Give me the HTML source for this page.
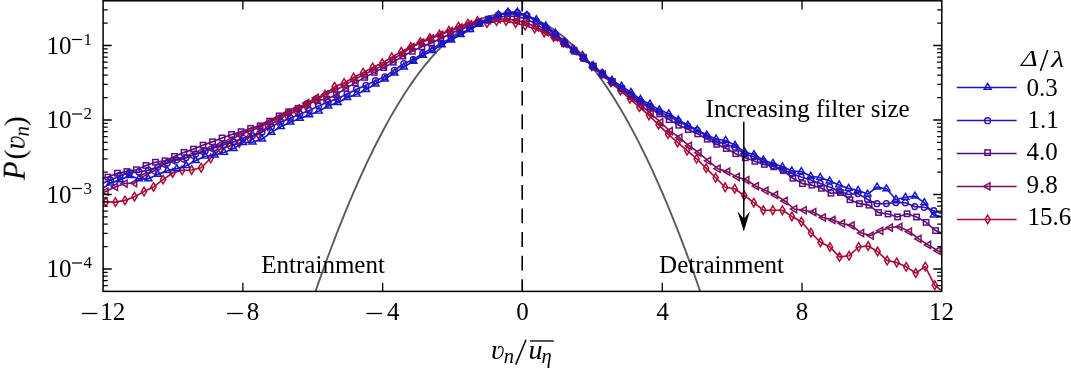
<!DOCTYPE html>
<html><head><meta charset="utf-8"><style>
html,body{margin:0;padding:0;background:#fff;width:1071px;height:372px;overflow:hidden}
svg{display:block}
text{font-family:"Liberation Serif",serif;fill:#000}
</style></head><body>
<svg width="1071" height="372" viewBox="0 0 1071 372">
<rect width="1071" height="372" fill="#fff"/>
<defs><clipPath id="ax"><rect x="103.1" y="0.8" width="838.6999999999999" height="290.59999999999997"/></clipPath></defs>
<g clip-path="url(#ax)">
<path d="M300.00,337.97 L301.40,333.60 L302.81,329.26 L304.21,324.96 L305.62,320.68 L307.02,316.43 L308.43,312.21 L309.83,308.02 L311.24,303.86 L312.64,299.72 L314.05,295.62 L315.45,291.55 L316.86,287.51 L318.26,283.50 L319.67,279.51 L321.07,275.56 L322.47,271.64 L323.88,267.74 L325.28,263.88 L326.69,260.04 L328.09,256.24 L329.50,252.46 L330.90,248.71 L332.31,245.00 L333.71,241.31 L335.12,237.65 L336.52,234.03 L337.93,230.43 L339.33,226.86 L340.74,223.32 L342.14,219.81 L343.55,216.33 L344.95,212.88 L346.35,209.46 L347.76,206.07 L349.16,202.71 L350.57,199.38 L351.97,196.08 L353.38,192.81 L354.78,189.56 L356.19,186.35 L357.59,183.17 L359.00,180.01 L360.40,176.89 L361.81,173.79 L363.21,170.73 L364.62,167.69 L366.02,164.69 L367.42,161.71 L368.83,158.77 L370.23,155.85 L371.64,152.96 L373.04,150.11 L374.45,147.28 L375.85,144.48 L377.26,141.71 L378.66,138.97 L380.07,136.26 L381.47,133.58 L382.88,130.93 L384.28,128.31 L385.69,125.72 L387.09,123.16 L388.49,120.63 L389.90,118.13 L391.30,115.65 L392.71,113.21 L394.11,110.80 L395.52,108.41 L396.92,106.06 L398.33,103.74 L399.73,101.44 L401.14,99.18 L402.54,96.94 L403.95,94.73 L405.35,92.56 L406.76,90.41 L408.16,88.29 L409.57,86.21 L410.97,84.15 L412.37,82.12 L413.78,80.12 L415.18,78.15 L416.59,76.21 L417.99,74.31 L419.40,72.43 L420.80,70.57 L422.21,68.75 L423.61,66.96 L425.02,65.20 L426.42,63.47 L427.83,61.77 L429.23,60.09 L430.64,58.45 L432.04,56.84 L433.44,55.25 L434.85,53.70 L436.25,52.18 L437.66,50.68 L439.06,49.22 L440.47,47.78 L441.87,46.37 L443.28,45.00 L444.68,43.65 L446.09,42.33 L447.49,41.05 L448.90,39.79 L450.30,38.56 L451.71,37.36 L453.11,36.19 L454.52,35.05 L455.92,33.94 L457.32,32.86 L458.73,31.81 L460.13,30.79 L461.54,29.80 L462.94,28.84 L464.35,27.90 L465.75,27.00 L467.16,26.13 L468.56,25.29 L469.97,24.47 L471.37,23.69 L472.78,22.93 L474.18,22.21 L475.59,21.51 L476.99,20.85 L478.39,20.21 L479.80,19.61 L481.20,19.03 L482.61,18.48 L484.01,17.96 L485.42,17.48 L486.82,17.02 L488.23,16.59 L489.63,16.19 L491.04,15.82 L492.44,15.48 L493.85,15.17 L495.25,14.89 L496.66,14.64 L498.06,14.42 L499.46,14.23 L500.87,14.07 L502.27,13.93 L503.68,13.83 L505.08,13.76 L506.49,13.71 L507.89,13.70 L509.30,13.72 L510.70,13.76 L512.11,13.84 L513.51,13.94 L514.92,14.07 L516.32,14.24 L517.73,14.43 L519.13,14.66 L520.54,14.91 L521.94,15.19 L523.34,15.50 L524.75,15.84 L526.15,16.21 L527.56,16.62 L528.96,17.05 L530.37,17.51 L531.77,18.00 L533.18,18.51 L534.58,19.06 L535.99,19.64 L537.39,20.25 L538.80,20.89 L540.20,21.56 L541.61,22.25 L543.01,22.98 L544.41,23.74 L545.82,24.52 L547.22,25.34 L548.63,26.18 L550.03,27.06 L551.44,27.96 L552.84,28.89 L554.25,29.86 L555.65,30.85 L557.06,31.87 L558.46,32.93 L559.87,34.01 L561.27,35.12 L562.68,36.26 L564.08,37.43 L565.48,38.63 L566.89,39.86 L568.29,41.12 L569.70,42.41 L571.10,43.73 L572.51,45.08 L573.91,46.46 L575.32,47.87 L576.72,49.30 L578.13,50.77 L579.53,52.27 L580.94,53.79 L582.34,55.35 L583.75,56.94 L585.15,58.55 L586.56,60.20 L587.96,61.87 L589.36,63.57 L590.77,65.31 L592.17,67.07 L593.58,68.86 L594.98,70.69 L596.39,72.54 L597.79,74.42 L599.20,76.33 L600.60,78.27 L602.01,80.24 L603.41,82.24 L604.82,84.27 L606.22,86.33 L607.63,88.42 L609.03,90.54 L610.43,92.69 L611.84,94.87 L613.24,97.08 L614.65,99.31 L616.05,101.58 L617.46,103.88 L618.86,106.20 L620.27,108.56 L621.67,110.94 L623.08,113.36 L624.48,115.80 L625.89,118.28 L627.29,120.78 L628.70,123.32 L630.10,125.88 L631.51,128.47 L632.91,131.09 L634.31,133.75 L635.72,136.43 L637.12,139.14 L638.53,141.88 L639.93,144.65 L641.34,147.45 L642.74,150.28 L644.15,153.14 L645.55,156.03 L646.96,158.95 L648.36,161.89 L649.77,164.87 L651.17,167.88 L652.58,170.92 L653.98,173.98 L655.38,177.08 L656.79,180.20 L658.19,183.36 L659.60,186.55 L661.00,189.76 L662.41,193.00 L663.81,196.28 L665.22,199.58 L666.62,202.92 L668.03,206.28 L669.43,209.67 L670.84,213.09 L672.24,216.54 L673.65,220.03 L675.05,223.54 L676.45,227.08 L677.86,230.65 L679.26,234.25 L680.67,237.88 L682.07,241.54 L683.48,245.22 L684.88,248.94 L686.29,252.69 L687.69,256.47 L689.10,260.28 L690.50,264.11 L691.91,267.98 L693.31,271.87 L694.72,275.80 L696.12,279.76 L697.53,283.74 L698.93,287.76 L700.33,291.80 L701.74,295.87 L703.14,299.98 L704.55,304.11 L705.95,308.27 L707.36,312.46 L708.76,316.69 L710.17,320.94 L711.57,325.22 L712.98,329.53 L714.38,333.87 L715.79,338.24 L717.19,342.64 L718.60,347.07 L720.00,351.53" fill="none" stroke="#5a5a5a" stroke-width="1.9"/>
<line x1="522.2" y1="0.8" x2="522.2" y2="291.4" stroke="#000" stroke-width="1.6" stroke-dasharray="14.8 8.75" stroke-dashoffset="4.20"/>
<path d="M101.10,179.00 L107.90,177.10 L117.41,173.18 L126.93,171.54 L136.44,169.74 L145.96,165.48 L155.47,162.21 L164.98,160.83 L174.50,156.44 L184.01,152.36 L193.52,149.11 L203.04,145.15 L212.55,141.78 L222.07,137.96 L231.58,134.50 L241.09,131.69 L250.61,128.34 L260.12,125.84 L269.63,121.12 L279.15,115.88 L288.66,111.78 L298.18,108.34 L307.69,104.24 L317.20,99.96 L326.72,99.37 L336.23,94.59 L345.74,88.34 L355.26,82.84 L364.77,77.38 L374.29,72.36 L383.80,67.60 L393.31,62.18 L402.83,56.09 L412.34,51.33 L421.86,46.76 L431.37,42.88 L440.88,38.56 L450.40,33.82 L459.91,29.54 L469.42,26.20 L478.94,22.42 L488.45,19.18 L497.97,17.01 L507.48,16.05 L516.99,16.50 L526.51,18.88 L536.02,24.01 L545.53,30.02 L555.05,36.40 L564.56,43.81 L574.08,51.06 L583.59,58.16 L593.10,66.09 L602.62,73.93 L612.13,81.78 L621.64,88.74 L631.16,96.44 L640.67,102.77 L650.19,108.17 L659.70,113.94 L669.21,119.61 L678.73,125.24 L688.24,129.61 L697.76,133.89 L707.27,139.15 L716.78,144.34 L726.30,148.54 L735.81,153.70 L745.32,157.77 L754.84,161.28 L764.35,164.39 L773.87,166.82 L783.38,170.62 L792.89,178.28 L802.41,183.60 L811.92,185.17 L821.43,188.31 L830.95,193.21 L840.46,192.53 L849.98,199.75 L859.49,203.66 L869.00,205.17 L878.52,212.56 L888.03,213.95 L897.54,216.92 L907.06,213.78 L916.57,217.04 L926.09,222.39 L935.60,230.60 L943.80,234.00" fill="none" stroke="#590a82" stroke-width="1.65" stroke-linejoin="round"/>
<g fill="none" stroke="#590a82" stroke-width="1.45" stroke-linejoin="miter"><rect x="105.20" y="174.40" width="5.4" height="5.4"/><rect x="114.71" y="170.48" width="5.4" height="5.4"/><rect x="124.23" y="168.84" width="5.4" height="5.4"/><rect x="133.74" y="167.04" width="5.4" height="5.4"/><rect x="143.26" y="162.78" width="5.4" height="5.4"/><rect x="152.77" y="159.51" width="5.4" height="5.4"/><rect x="162.28" y="158.13" width="5.4" height="5.4"/><rect x="171.80" y="153.74" width="5.4" height="5.4"/><rect x="181.31" y="149.66" width="5.4" height="5.4"/><rect x="190.82" y="146.41" width="5.4" height="5.4"/><rect x="200.34" y="142.45" width="5.4" height="5.4"/><rect x="209.85" y="139.08" width="5.4" height="5.4"/><rect x="219.37" y="135.26" width="5.4" height="5.4"/><rect x="228.88" y="131.80" width="5.4" height="5.4"/><rect x="238.39" y="128.99" width="5.4" height="5.4"/><rect x="247.91" y="125.64" width="5.4" height="5.4"/><rect x="257.42" y="123.14" width="5.4" height="5.4"/><rect x="266.93" y="118.42" width="5.4" height="5.4"/><rect x="276.45" y="113.18" width="5.4" height="5.4"/><rect x="285.96" y="109.08" width="5.4" height="5.4"/><rect x="295.48" y="105.64" width="5.4" height="5.4"/><rect x="304.99" y="101.54" width="5.4" height="5.4"/><rect x="314.50" y="97.26" width="5.4" height="5.4"/><rect x="324.02" y="96.67" width="5.4" height="5.4"/><rect x="333.53" y="91.89" width="5.4" height="5.4"/><rect x="343.04" y="85.64" width="5.4" height="5.4"/><rect x="352.56" y="80.14" width="5.4" height="5.4"/><rect x="362.07" y="74.68" width="5.4" height="5.4"/><rect x="371.59" y="69.66" width="5.4" height="5.4"/><rect x="381.10" y="64.90" width="5.4" height="5.4"/><rect x="390.61" y="59.48" width="5.4" height="5.4"/><rect x="400.13" y="53.39" width="5.4" height="5.4"/><rect x="409.64" y="48.63" width="5.4" height="5.4"/><rect x="419.16" y="44.06" width="5.4" height="5.4"/><rect x="428.67" y="40.18" width="5.4" height="5.4"/><rect x="438.18" y="35.86" width="5.4" height="5.4"/><rect x="447.70" y="31.12" width="5.4" height="5.4"/><rect x="457.21" y="26.84" width="5.4" height="5.4"/><rect x="466.72" y="23.50" width="5.4" height="5.4"/><rect x="476.24" y="19.72" width="5.4" height="5.4"/><rect x="485.75" y="16.48" width="5.4" height="5.4"/><rect x="495.27" y="14.31" width="5.4" height="5.4"/><rect x="504.78" y="13.35" width="5.4" height="5.4"/><rect x="514.29" y="13.80" width="5.4" height="5.4"/><rect x="523.81" y="16.18" width="5.4" height="5.4"/><rect x="533.32" y="21.31" width="5.4" height="5.4"/><rect x="542.83" y="27.32" width="5.4" height="5.4"/><rect x="552.35" y="33.70" width="5.4" height="5.4"/><rect x="561.86" y="41.11" width="5.4" height="5.4"/><rect x="571.38" y="48.36" width="5.4" height="5.4"/><rect x="580.89" y="55.46" width="5.4" height="5.4"/><rect x="590.40" y="63.39" width="5.4" height="5.4"/><rect x="599.92" y="71.23" width="5.4" height="5.4"/><rect x="609.43" y="79.08" width="5.4" height="5.4"/><rect x="618.94" y="86.04" width="5.4" height="5.4"/><rect x="628.46" y="93.74" width="5.4" height="5.4"/><rect x="637.97" y="100.07" width="5.4" height="5.4"/><rect x="647.49" y="105.47" width="5.4" height="5.4"/><rect x="657.00" y="111.24" width="5.4" height="5.4"/><rect x="666.51" y="116.91" width="5.4" height="5.4"/><rect x="676.03" y="122.54" width="5.4" height="5.4"/><rect x="685.54" y="126.91" width="5.4" height="5.4"/><rect x="695.06" y="131.19" width="5.4" height="5.4"/><rect x="704.57" y="136.45" width="5.4" height="5.4"/><rect x="714.08" y="141.64" width="5.4" height="5.4"/><rect x="723.60" y="145.84" width="5.4" height="5.4"/><rect x="733.11" y="151.00" width="5.4" height="5.4"/><rect x="742.62" y="155.07" width="5.4" height="5.4"/><rect x="752.14" y="158.58" width="5.4" height="5.4"/><rect x="761.65" y="161.69" width="5.4" height="5.4"/><rect x="771.17" y="164.12" width="5.4" height="5.4"/><rect x="780.68" y="167.92" width="5.4" height="5.4"/><rect x="790.19" y="175.58" width="5.4" height="5.4"/><rect x="799.71" y="180.90" width="5.4" height="5.4"/><rect x="809.22" y="182.47" width="5.4" height="5.4"/><rect x="818.73" y="185.61" width="5.4" height="5.4"/><rect x="828.25" y="190.51" width="5.4" height="5.4"/><rect x="837.76" y="189.83" width="5.4" height="5.4"/><rect x="847.28" y="197.05" width="5.4" height="5.4"/><rect x="856.79" y="200.96" width="5.4" height="5.4"/><rect x="866.30" y="202.47" width="5.4" height="5.4"/><rect x="875.82" y="209.86" width="5.4" height="5.4"/><rect x="885.33" y="211.25" width="5.4" height="5.4"/><rect x="894.84" y="214.22" width="5.4" height="5.4"/><rect x="904.36" y="211.08" width="5.4" height="5.4"/><rect x="913.87" y="214.34" width="5.4" height="5.4"/><rect x="923.39" y="219.69" width="5.4" height="5.4"/><rect x="932.90" y="227.90" width="5.4" height="5.4"/></g>
<path d="M101.10,193.00 L105.60,191.50 L115.17,186.93 L124.73,183.52 L134.30,183.10 L143.86,176.13 L153.43,171.26 L162.99,164.23 L172.56,160.33 L182.12,159.05 L191.69,155.56 L201.26,151.70 L210.82,148.39 L220.39,144.65 L229.95,140.79 L239.52,134.88 L249.08,131.31 L258.65,127.54 L268.21,122.68 L277.78,118.06 L287.34,112.96 L296.91,108.39 L306.48,103.11 L316.04,97.98 L325.61,94.32 L335.17,90.41 L344.74,85.16 L354.30,79.63 L363.87,74.57 L373.43,69.95 L383.00,65.20 L392.57,59.46 L402.13,53.51 L411.70,47.15 L421.26,42.50 L430.83,38.67 L440.39,34.84 L449.96,31.02 L459.52,27.67 L469.09,24.32 L478.66,21.84 L488.22,20.13 L497.79,19.02 L507.35,19.00 L516.92,20.49 L526.48,22.87 L536.05,27.03 L545.61,32.06 L555.18,37.49 L564.74,43.96 L574.31,51.23 L583.88,58.45 L593.44,67.34 L603.01,74.75 L612.57,82.63 L622.14,90.11 L631.70,98.04 L641.27,105.96 L650.83,113.37 L660.40,122.27 L669.97,131.15 L679.53,137.55 L689.10,145.77 L698.66,152.63 L708.23,160.86 L717.79,168.67 L727.36,171.64 L736.92,176.87 L746.49,180.03 L756.06,186.19 L765.62,190.60 L775.19,194.92 L784.75,200.98 L794.32,209.05 L803.88,210.24 L813.45,212.15 L823.01,217.50 L832.58,219.89 L842.14,223.44 L851.71,225.36 L861.28,233.03 L870.84,235.57 L880.41,230.84 L889.97,227.55 L899.54,226.80 L909.10,231.52 L918.67,238.91 L928.23,244.90 L937.80,250.71 L943.80,253.00" fill="none" stroke="#7a0c60" stroke-width="1.65" stroke-linejoin="round"/>
<g fill="none" stroke="#7a0c60" stroke-width="1.45" stroke-linejoin="miter"><path d="M101.76,191.50L107.96,187.90L107.96,195.10Z"/><path d="M111.32,186.93L117.52,183.33L117.52,190.53Z"/><path d="M120.89,183.52L127.09,179.92L127.09,187.12Z"/><path d="M130.45,183.10L136.65,179.50L136.65,186.70Z"/><path d="M140.02,176.13L146.22,172.53L146.22,179.73Z"/><path d="M149.58,171.26L155.78,167.66L155.78,174.86Z"/><path d="M159.15,164.23L165.35,160.63L165.35,167.83Z"/><path d="M168.71,160.33L174.91,156.73L174.91,163.93Z"/><path d="M178.28,159.05L184.48,155.45L184.48,162.65Z"/><path d="M187.85,155.56L194.05,151.96L194.05,159.16Z"/><path d="M197.41,151.70L203.61,148.10L203.61,155.30Z"/><path d="M206.98,148.39L213.18,144.79L213.18,151.99Z"/><path d="M216.54,144.65L222.74,141.05L222.74,148.25Z"/><path d="M226.11,140.79L232.31,137.19L232.31,144.39Z"/><path d="M235.67,134.88L241.87,131.28L241.87,138.48Z"/><path d="M245.24,131.31L251.44,127.71L251.44,134.91Z"/><path d="M254.80,127.54L261.00,123.94L261.00,131.14Z"/><path d="M264.37,122.68L270.57,119.08L270.57,126.28Z"/><path d="M273.94,118.06L280.14,114.46L280.14,121.66Z"/><path d="M283.50,112.96L289.70,109.36L289.70,116.56Z"/><path d="M293.07,108.39L299.27,104.79L299.27,111.99Z"/><path d="M302.63,103.11L308.83,99.51L308.83,106.71Z"/><path d="M312.20,97.98L318.40,94.38L318.40,101.58Z"/><path d="M321.76,94.32L327.96,90.72L327.96,97.92Z"/><path d="M331.33,90.41L337.53,86.81L337.53,94.01Z"/><path d="M340.89,85.16L347.09,81.56L347.09,88.76Z"/><path d="M350.46,79.63L356.66,76.03L356.66,83.23Z"/><path d="M360.02,74.57L366.22,70.97L366.22,78.17Z"/><path d="M369.59,69.95L375.79,66.35L375.79,73.55Z"/><path d="M379.16,65.20L385.36,61.60L385.36,68.80Z"/><path d="M388.72,59.46L394.92,55.86L394.92,63.06Z"/><path d="M398.29,53.51L404.49,49.91L404.49,57.11Z"/><path d="M407.85,47.15L414.05,43.55L414.05,50.75Z"/><path d="M417.42,42.50L423.62,38.90L423.62,46.10Z"/><path d="M426.98,38.67L433.18,35.07L433.18,42.27Z"/><path d="M436.55,34.84L442.75,31.24L442.75,38.44Z"/><path d="M446.11,31.02L452.31,27.42L452.31,34.62Z"/><path d="M455.68,27.67L461.88,24.07L461.88,31.27Z"/><path d="M465.25,24.32L471.45,20.72L471.45,27.92Z"/><path d="M474.81,21.84L481.01,18.24L481.01,25.44Z"/><path d="M484.38,20.13L490.58,16.53L490.58,23.73Z"/><path d="M493.94,19.02L500.14,15.42L500.14,22.62Z"/><path d="M503.51,19.00L509.71,15.40L509.71,22.60Z"/><path d="M513.07,20.49L519.27,16.89L519.27,24.09Z"/><path d="M522.64,22.87L528.84,19.27L528.84,26.47Z"/><path d="M532.20,27.03L538.40,23.43L538.40,30.63Z"/><path d="M541.77,32.06L547.97,28.46L547.97,35.66Z"/><path d="M551.34,37.49L557.54,33.89L557.54,41.09Z"/><path d="M560.90,43.96L567.10,40.36L567.10,47.56Z"/><path d="M570.47,51.23L576.67,47.63L576.67,54.83Z"/><path d="M580.03,58.45L586.23,54.85L586.23,62.05Z"/><path d="M589.60,67.34L595.80,63.74L595.80,70.94Z"/><path d="M599.16,74.75L605.36,71.15L605.36,78.35Z"/><path d="M608.73,82.63L614.93,79.03L614.93,86.23Z"/><path d="M618.29,90.11L624.49,86.51L624.49,93.71Z"/><path d="M627.86,98.04L634.06,94.44L634.06,101.64Z"/><path d="M637.42,105.96L643.62,102.36L643.62,109.56Z"/><path d="M646.99,113.37L653.19,109.77L653.19,116.97Z"/><path d="M656.56,122.27L662.76,118.67L662.76,125.87Z"/><path d="M666.12,131.15L672.32,127.55L672.32,134.75Z"/><path d="M675.69,137.55L681.89,133.95L681.89,141.15Z"/><path d="M685.25,145.77L691.45,142.17L691.45,149.37Z"/><path d="M694.82,152.63L701.02,149.03L701.02,156.23Z"/><path d="M704.38,160.86L710.58,157.26L710.58,164.46Z"/><path d="M713.95,168.67L720.15,165.07L720.15,172.27Z"/><path d="M723.51,171.64L729.71,168.04L729.71,175.24Z"/><path d="M733.08,176.87L739.28,173.27L739.28,180.47Z"/><path d="M742.65,180.03L748.85,176.43L748.85,183.63Z"/><path d="M752.21,186.19L758.41,182.59L758.41,189.79Z"/><path d="M761.78,190.60L767.98,187.00L767.98,194.20Z"/><path d="M771.34,194.92L777.54,191.32L777.54,198.52Z"/><path d="M780.91,200.98L787.11,197.38L787.11,204.58Z"/><path d="M790.47,209.05L796.67,205.45L796.67,212.65Z"/><path d="M800.04,210.24L806.24,206.64L806.24,213.84Z"/><path d="M809.60,212.15L815.80,208.55L815.80,215.75Z"/><path d="M819.17,217.50L825.37,213.90L825.37,221.10Z"/><path d="M828.74,219.89L834.94,216.29L834.94,223.49Z"/><path d="M838.30,223.44L844.50,219.84L844.50,227.04Z"/><path d="M847.87,225.36L854.07,221.76L854.07,228.96Z"/><path d="M857.43,233.03L863.63,229.43L863.63,236.63Z"/><path d="M867.00,235.57L873.20,231.97L873.20,239.17Z"/><path d="M876.56,230.84L882.76,227.24L882.76,234.44Z"/><path d="M886.13,227.55L892.33,223.95L892.33,231.15Z"/><path d="M895.69,226.80L901.89,223.20L901.89,230.40Z"/><path d="M905.26,231.52L911.46,227.92L911.46,235.12Z"/><path d="M914.82,238.91L921.02,235.31L921.02,242.51Z"/><path d="M924.39,244.90L930.59,241.30L930.59,248.50Z"/><path d="M933.96,250.71L940.16,247.11L940.16,254.31Z"/></g>
<path d="M101.10,202.00 L105.90,201.90 L115.43,202.17 L124.96,200.39 L134.48,196.65 L144.01,191.54 L153.54,186.91 L163.07,179.58 L172.59,172.95 L182.12,170.31 L191.65,170.00 L201.18,167.74 L210.70,158.26 L220.23,148.87 L229.76,145.90 L239.29,143.12 L248.81,137.74 L258.34,134.42 L267.87,126.13 L277.40,120.62 L286.92,115.09 L296.45,111.30 L305.98,105.92 L315.51,100.31 L325.03,94.70 L334.56,86.60 L344.09,83.00 L353.62,77.50 L363.14,72.63 L372.67,67.42 L382.20,63.08 L391.73,57.14 L401.26,51.78 L410.78,46.95 L420.31,42.12 L429.84,38.30 L439.37,34.38 L448.89,30.70 L458.42,26.68 L467.95,23.58 L477.48,21.06 L487.00,23.13 L496.53,21.15 L506.06,21.00 L515.59,23.17 L525.11,25.55 L534.64,28.62 L544.17,32.54 L553.70,37.16 L563.22,42.58 L572.75,48.83 L582.28,55.68 L591.81,66.40 L601.33,74.07 L610.86,82.25 L620.39,90.67 L629.92,98.81 L639.44,107.14 L648.97,115.49 L658.50,124.63 L668.03,134.13 L677.56,142.44 L687.08,150.65 L696.61,158.77 L706.14,168.14 L715.67,177.76 L725.19,187.29 L734.72,188.71 L744.25,195.51 L753.78,202.63 L763.30,210.20 L772.83,210.20 L782.36,210.20 L791.89,216.43 L801.41,221.76 L810.94,232.77 L820.47,242.19 L830.00,247.06 L839.52,256.89 L849.05,255.80 L858.58,247.01 L868.11,246.02 L877.63,251.52 L887.16,260.53 L896.69,262.48 L906.22,266.83 L915.74,272.96 L925.27,266.61 L934.80,285.29 L943.80,292.00" fill="none" stroke="#aa0834" stroke-width="1.65" stroke-linejoin="round"/>
<g fill="none" stroke="#aa0834" stroke-width="1.45" stroke-linejoin="miter"><path d="M105.90,197.60L108.50,201.90L105.90,206.20L103.30,201.90Z"/><path d="M115.43,197.87L118.03,202.17L115.43,206.47L112.83,202.17Z"/><path d="M124.96,196.09L127.56,200.39L124.96,204.69L122.36,200.39Z"/><path d="M134.48,192.35L137.08,196.65L134.48,200.95L131.88,196.65Z"/><path d="M144.01,187.24L146.61,191.54L144.01,195.84L141.41,191.54Z"/><path d="M153.54,182.61L156.14,186.91L153.54,191.21L150.94,186.91Z"/><path d="M163.07,175.28L165.67,179.58L163.07,183.88L160.47,179.58Z"/><path d="M172.59,168.65L175.19,172.95L172.59,177.25L169.99,172.95Z"/><path d="M182.12,166.01L184.72,170.31L182.12,174.61L179.52,170.31Z"/><path d="M191.65,165.70L194.25,170.00L191.65,174.30L189.05,170.00Z"/><path d="M201.18,163.44L203.78,167.74L201.18,172.04L198.58,167.74Z"/><path d="M210.70,153.96L213.30,158.26L210.70,162.56L208.10,158.26Z"/><path d="M220.23,144.57L222.83,148.87L220.23,153.17L217.63,148.87Z"/><path d="M229.76,141.60L232.36,145.90L229.76,150.20L227.16,145.90Z"/><path d="M239.29,138.82L241.89,143.12L239.29,147.42L236.69,143.12Z"/><path d="M248.81,133.44L251.41,137.74L248.81,142.04L246.21,137.74Z"/><path d="M258.34,130.12L260.94,134.42L258.34,138.72L255.74,134.42Z"/><path d="M267.87,121.83L270.47,126.13L267.87,130.43L265.27,126.13Z"/><path d="M277.40,116.32L280.00,120.62L277.40,124.92L274.80,120.62Z"/><path d="M286.92,110.79L289.52,115.09L286.92,119.39L284.32,115.09Z"/><path d="M296.45,107.00L299.05,111.30L296.45,115.60L293.85,111.30Z"/><path d="M305.98,101.62L308.58,105.92L305.98,110.22L303.38,105.92Z"/><path d="M315.51,96.01L318.11,100.31L315.51,104.61L312.91,100.31Z"/><path d="M325.03,90.40L327.63,94.70L325.03,99.00L322.43,94.70Z"/><path d="M334.56,82.30L337.16,86.60L334.56,90.90L331.96,86.60Z"/><path d="M344.09,78.70L346.69,83.00L344.09,87.30L341.49,83.00Z"/><path d="M353.62,73.20L356.22,77.50L353.62,81.80L351.02,77.50Z"/><path d="M363.14,68.33L365.74,72.63L363.14,76.93L360.54,72.63Z"/><path d="M372.67,63.12L375.27,67.42L372.67,71.72L370.07,67.42Z"/><path d="M382.20,58.78L384.80,63.08L382.20,67.38L379.60,63.08Z"/><path d="M391.73,52.84L394.33,57.14L391.73,61.44L389.13,57.14Z"/><path d="M401.26,47.48L403.86,51.78L401.26,56.08L398.66,51.78Z"/><path d="M410.78,42.65L413.38,46.95L410.78,51.25L408.18,46.95Z"/><path d="M420.31,37.82L422.91,42.12L420.31,46.42L417.71,42.12Z"/><path d="M429.84,34.00L432.44,38.30L429.84,42.60L427.24,38.30Z"/><path d="M439.37,30.08L441.97,34.38L439.37,38.68L436.77,34.38Z"/><path d="M448.89,26.40L451.49,30.70L448.89,35.00L446.29,30.70Z"/><path d="M458.42,22.38L461.02,26.68L458.42,30.98L455.82,26.68Z"/><path d="M467.95,19.28L470.55,23.58L467.95,27.88L465.35,23.58Z"/><path d="M477.48,16.76L480.08,21.06L477.48,25.36L474.88,21.06Z"/><path d="M487.00,18.83L489.60,23.13L487.00,27.43L484.40,23.13Z"/><path d="M496.53,16.85L499.13,21.15L496.53,25.45L493.93,21.15Z"/><path d="M506.06,16.70L508.66,21.00L506.06,25.30L503.46,21.00Z"/><path d="M515.59,18.87L518.19,23.17L515.59,27.47L512.99,23.17Z"/><path d="M525.11,21.25L527.71,25.55L525.11,29.85L522.51,25.55Z"/><path d="M534.64,24.32L537.24,28.62L534.64,32.92L532.04,28.62Z"/><path d="M544.17,28.24L546.77,32.54L544.17,36.84L541.57,32.54Z"/><path d="M553.70,32.86L556.30,37.16L553.70,41.46L551.10,37.16Z"/><path d="M563.22,38.28L565.82,42.58L563.22,46.88L560.62,42.58Z"/><path d="M572.75,44.53L575.35,48.83L572.75,53.13L570.15,48.83Z"/><path d="M582.28,51.38L584.88,55.68L582.28,59.98L579.68,55.68Z"/><path d="M591.81,62.10L594.41,66.40L591.81,70.70L589.21,66.40Z"/><path d="M601.33,69.77L603.93,74.07L601.33,78.37L598.73,74.07Z"/><path d="M610.86,77.95L613.46,82.25L610.86,86.55L608.26,82.25Z"/><path d="M620.39,86.37L622.99,90.67L620.39,94.97L617.79,90.67Z"/><path d="M629.92,94.51L632.52,98.81L629.92,103.11L627.32,98.81Z"/><path d="M639.44,102.84L642.04,107.14L639.44,111.44L636.84,107.14Z"/><path d="M648.97,111.19L651.57,115.49L648.97,119.79L646.37,115.49Z"/><path d="M658.50,120.33L661.10,124.63L658.50,128.93L655.90,124.63Z"/><path d="M668.03,129.83L670.63,134.13L668.03,138.43L665.43,134.13Z"/><path d="M677.56,138.14L680.16,142.44L677.56,146.74L674.96,142.44Z"/><path d="M687.08,146.35L689.68,150.65L687.08,154.95L684.48,150.65Z"/><path d="M696.61,154.47L699.21,158.77L696.61,163.07L694.01,158.77Z"/><path d="M706.14,163.84L708.74,168.14L706.14,172.44L703.54,168.14Z"/><path d="M715.67,173.46L718.27,177.76L715.67,182.06L713.07,177.76Z"/><path d="M725.19,182.99L727.79,187.29L725.19,191.59L722.59,187.29Z"/><path d="M734.72,184.41L737.32,188.71L734.72,193.01L732.12,188.71Z"/><path d="M744.25,191.21L746.85,195.51L744.25,199.81L741.65,195.51Z"/><path d="M753.78,198.33L756.38,202.63L753.78,206.93L751.18,202.63Z"/><path d="M763.30,205.90L765.90,210.20L763.30,214.50L760.70,210.20Z"/><path d="M772.83,205.90L775.43,210.20L772.83,214.50L770.23,210.20Z"/><path d="M782.36,205.90L784.96,210.20L782.36,214.50L779.76,210.20Z"/><path d="M791.89,212.13L794.49,216.43L791.89,220.73L789.29,216.43Z"/><path d="M801.41,217.46L804.01,221.76L801.41,226.06L798.81,221.76Z"/><path d="M810.94,228.47L813.54,232.77L810.94,237.07L808.34,232.77Z"/><path d="M820.47,237.89L823.07,242.19L820.47,246.49L817.87,242.19Z"/><path d="M830.00,242.76L832.60,247.06L830.00,251.36L827.40,247.06Z"/><path d="M839.52,252.59L842.12,256.89L839.52,261.19L836.92,256.89Z"/><path d="M849.05,251.50L851.65,255.80L849.05,260.10L846.45,255.80Z"/><path d="M858.58,242.71L861.18,247.01L858.58,251.31L855.98,247.01Z"/><path d="M868.11,241.72L870.71,246.02L868.11,250.32L865.51,246.02Z"/><path d="M877.63,247.22L880.23,251.52L877.63,255.82L875.03,251.52Z"/><path d="M887.16,256.23L889.76,260.53L887.16,264.83L884.56,260.53Z"/><path d="M896.69,258.18L899.29,262.48L896.69,266.78L894.09,262.48Z"/><path d="M906.22,262.53L908.82,266.83L906.22,271.13L903.62,266.83Z"/><path d="M915.74,268.66L918.34,272.96L915.74,277.26L913.14,272.96Z"/><path d="M925.27,262.31L927.87,266.61L925.27,270.91L922.67,266.61Z"/><path d="M934.80,280.99L937.40,285.29L934.80,289.59L932.20,285.29Z"/></g>
<path d="M101.10,184.00 L110.50,180.00 L119.96,176.10 L129.42,172.64 L138.89,171.96 L148.35,170.11 L157.81,167.00 L167.27,163.05 L176.73,159.87 L186.20,157.60 L195.66,153.95 L205.12,150.99 L214.58,147.63 L224.04,144.83 L233.51,141.88 L242.97,138.28 L252.43,135.57 L261.89,132.15 L271.36,126.81 L280.82,121.87 L290.28,118.16 L299.74,114.15 L309.20,110.46 L318.67,106.11 L328.13,102.07 L337.59,98.64 L347.05,94.02 L356.51,89.19 L365.98,85.37 L375.44,80.64 L384.90,76.76 L394.36,70.29 L403.82,63.74 L413.29,59.57 L422.75,53.27 L432.21,48.38 L441.67,43.02 L451.13,38.14 L460.60,33.21 L470.06,28.71 L479.52,23.44 L488.98,19.01 L498.44,14.91 L507.91,12.98 L517.37,12.92 L526.83,15.48 L536.29,21.33 L545.76,27.68 L555.22,34.52 L564.68,42.89 L574.14,50.84 L583.60,58.18 L593.07,66.56 L602.53,74.85 L611.99,81.70 L621.45,88.13 L630.91,94.30 L640.38,101.10 L649.84,106.46 L659.30,111.83 L668.76,116.25 L678.22,121.10 L687.69,126.02 L697.15,130.47 L706.61,136.07 L716.07,141.74 L725.53,144.07 L735.00,147.21 L744.46,153.90 L753.92,156.72 L763.38,161.71 L772.84,165.70 L782.31,169.28 L791.77,173.60 L801.23,177.07 L810.69,179.97 L820.16,183.47 L829.62,186.98 L839.08,190.94 L848.54,194.49 L858.00,193.61 L867.47,199.40 L876.93,203.70 L886.39,203.59 L895.85,202.50 L905.31,202.76 L914.78,206.62 L924.24,207.30 L933.70,210.69 L943.80,214.30" fill="none" stroke="#3512a8" stroke-width="1.65" stroke-linejoin="round"/>
<g fill="none" stroke="#3512a8" stroke-width="1.45" stroke-linejoin="miter"><circle cx="110.50" cy="180.00" r="2.9"/><circle cx="119.96" cy="176.10" r="2.9"/><circle cx="129.42" cy="172.64" r="2.9"/><circle cx="138.89" cy="171.96" r="2.9"/><circle cx="148.35" cy="170.11" r="2.9"/><circle cx="157.81" cy="167.00" r="2.9"/><circle cx="167.27" cy="163.05" r="2.9"/><circle cx="176.73" cy="159.87" r="2.9"/><circle cx="186.20" cy="157.60" r="2.9"/><circle cx="195.66" cy="153.95" r="2.9"/><circle cx="205.12" cy="150.99" r="2.9"/><circle cx="214.58" cy="147.63" r="2.9"/><circle cx="224.04" cy="144.83" r="2.9"/><circle cx="233.51" cy="141.88" r="2.9"/><circle cx="242.97" cy="138.28" r="2.9"/><circle cx="252.43" cy="135.57" r="2.9"/><circle cx="261.89" cy="132.15" r="2.9"/><circle cx="271.36" cy="126.81" r="2.9"/><circle cx="280.82" cy="121.87" r="2.9"/><circle cx="290.28" cy="118.16" r="2.9"/><circle cx="299.74" cy="114.15" r="2.9"/><circle cx="309.20" cy="110.46" r="2.9"/><circle cx="318.67" cy="106.11" r="2.9"/><circle cx="328.13" cy="102.07" r="2.9"/><circle cx="337.59" cy="98.64" r="2.9"/><circle cx="347.05" cy="94.02" r="2.9"/><circle cx="356.51" cy="89.19" r="2.9"/><circle cx="365.98" cy="85.37" r="2.9"/><circle cx="375.44" cy="80.64" r="2.9"/><circle cx="384.90" cy="76.76" r="2.9"/><circle cx="394.36" cy="70.29" r="2.9"/><circle cx="403.82" cy="63.74" r="2.9"/><circle cx="413.29" cy="59.57" r="2.9"/><circle cx="422.75" cy="53.27" r="2.9"/><circle cx="432.21" cy="48.38" r="2.9"/><circle cx="441.67" cy="43.02" r="2.9"/><circle cx="451.13" cy="38.14" r="2.9"/><circle cx="460.60" cy="33.21" r="2.9"/><circle cx="470.06" cy="28.71" r="2.9"/><circle cx="479.52" cy="23.44" r="2.9"/><circle cx="488.98" cy="19.01" r="2.9"/><circle cx="498.44" cy="14.91" r="2.9"/><circle cx="507.91" cy="12.98" r="2.9"/><circle cx="517.37" cy="12.92" r="2.9"/><circle cx="526.83" cy="15.48" r="2.9"/><circle cx="536.29" cy="21.33" r="2.9"/><circle cx="545.76" cy="27.68" r="2.9"/><circle cx="555.22" cy="34.52" r="2.9"/><circle cx="564.68" cy="42.89" r="2.9"/><circle cx="574.14" cy="50.84" r="2.9"/><circle cx="583.60" cy="58.18" r="2.9"/><circle cx="593.07" cy="66.56" r="2.9"/><circle cx="602.53" cy="74.85" r="2.9"/><circle cx="611.99" cy="81.70" r="2.9"/><circle cx="621.45" cy="88.13" r="2.9"/><circle cx="630.91" cy="94.30" r="2.9"/><circle cx="640.38" cy="101.10" r="2.9"/><circle cx="649.84" cy="106.46" r="2.9"/><circle cx="659.30" cy="111.83" r="2.9"/><circle cx="668.76" cy="116.25" r="2.9"/><circle cx="678.22" cy="121.10" r="2.9"/><circle cx="687.69" cy="126.02" r="2.9"/><circle cx="697.15" cy="130.47" r="2.9"/><circle cx="706.61" cy="136.07" r="2.9"/><circle cx="716.07" cy="141.74" r="2.9"/><circle cx="725.53" cy="144.07" r="2.9"/><circle cx="735.00" cy="147.21" r="2.9"/><circle cx="744.46" cy="153.90" r="2.9"/><circle cx="753.92" cy="156.72" r="2.9"/><circle cx="763.38" cy="161.71" r="2.9"/><circle cx="772.84" cy="165.70" r="2.9"/><circle cx="782.31" cy="169.28" r="2.9"/><circle cx="791.77" cy="173.60" r="2.9"/><circle cx="801.23" cy="177.07" r="2.9"/><circle cx="810.69" cy="179.97" r="2.9"/><circle cx="820.16" cy="183.47" r="2.9"/><circle cx="829.62" cy="186.98" r="2.9"/><circle cx="839.08" cy="190.94" r="2.9"/><circle cx="848.54" cy="194.49" r="2.9"/><circle cx="858.00" cy="193.61" r="2.9"/><circle cx="867.47" cy="199.40" r="2.9"/><circle cx="876.93" cy="203.70" r="2.9"/><circle cx="886.39" cy="203.59" r="2.9"/><circle cx="895.85" cy="202.50" r="2.9"/><circle cx="905.31" cy="202.76" r="2.9"/><circle cx="914.78" cy="206.62" r="2.9"/><circle cx="924.24" cy="207.30" r="2.9"/><circle cx="933.70" cy="210.69" r="2.9"/></g>
<path d="M101.10,189.50 L110.50,183.00 L119.96,179.88 L129.43,175.67 L138.89,178.80 L148.35,178.80 L157.82,174.39 L167.28,170.65 L176.74,168.63 L186.21,165.72 L195.67,160.52 L205.13,156.20 L214.60,155.11 L224.06,152.47 L233.52,148.50 L242.99,142.74 L252.45,142.10 L261.91,139.12 L271.37,132.37 L280.84,126.72 L290.30,122.19 L299.76,118.43 L309.23,114.93 L318.69,111.24 L328.15,106.08 L337.62,102.65 L347.08,97.61 L356.54,94.24 L366.01,89.65 L375.47,84.00 L384.93,79.18 L394.40,73.11 L403.86,67.17 L413.32,61.30 L422.79,55.36 L432.25,50.65 L441.71,44.79 L451.18,40.01 L460.64,34.70 L470.10,29.71 L479.57,23.94 L489.03,20.28 L498.49,14.86 L507.96,12.10 L517.42,12.04 L526.88,15.49 L536.34,19.76 L545.81,26.03 L555.27,33.17 L564.73,41.84 L574.20,49.87 L583.66,57.03 L593.12,65.50 L602.59,73.41 L612.05,80.25 L621.51,86.20 L630.98,92.45 L640.44,99.42 L649.90,104.20 L659.37,109.86 L668.83,113.81 L678.29,120.03 L687.76,125.06 L697.22,129.94 L706.68,135.08 L716.15,139.03 L725.61,140.45 L735.07,145.27 L744.54,151.83 L754.00,154.69 L763.46,160.00 L772.93,163.42 L782.39,166.82 L791.85,171.02 L801.31,171.56 L810.78,176.29 L820.24,177.47 L829.70,181.01 L839.17,184.97 L848.63,188.45 L858.09,190.40 L867.56,194.05 L877.02,187.08 L886.48,188.82 L895.95,199.47 L905.41,197.30 L914.87,196.19 L924.34,202.62 L933.80,215.07 L943.80,217.00" fill="none" stroke="#1414cc" stroke-width="1.65" stroke-linejoin="round"/>
<g fill="none" stroke="#1414cc" stroke-width="1.45" stroke-linejoin="miter"><path d="M110.50,179.00L114.00,184.90L107.00,184.90Z"/><path d="M119.96,175.88L123.46,181.78L116.46,181.78Z"/><path d="M129.43,171.67L132.93,177.57L125.93,177.57Z"/><path d="M138.89,174.80L142.39,180.70L135.39,180.70Z"/><path d="M148.35,174.80L151.85,180.70L144.85,180.70Z"/><path d="M157.82,170.39L161.32,176.29L154.32,176.29Z"/><path d="M167.28,166.65L170.78,172.55L163.78,172.55Z"/><path d="M176.74,164.63L180.24,170.53L173.24,170.53Z"/><path d="M186.21,161.72L189.71,167.62L182.71,167.62Z"/><path d="M195.67,156.52L199.17,162.42L192.17,162.42Z"/><path d="M205.13,152.20L208.63,158.10L201.63,158.10Z"/><path d="M214.60,151.11L218.10,157.01L211.10,157.01Z"/><path d="M224.06,148.47L227.56,154.37L220.56,154.37Z"/><path d="M233.52,144.50L237.02,150.40L230.02,150.40Z"/><path d="M242.99,138.74L246.49,144.64L239.49,144.64Z"/><path d="M252.45,138.10L255.95,144.00L248.95,144.00Z"/><path d="M261.91,135.12L265.41,141.02L258.41,141.02Z"/><path d="M271.37,128.37L274.87,134.27L267.87,134.27Z"/><path d="M280.84,122.72L284.34,128.62L277.34,128.62Z"/><path d="M290.30,118.19L293.80,124.09L286.80,124.09Z"/><path d="M299.76,114.43L303.26,120.33L296.26,120.33Z"/><path d="M309.23,110.93L312.73,116.83L305.73,116.83Z"/><path d="M318.69,107.24L322.19,113.14L315.19,113.14Z"/><path d="M328.15,102.08L331.65,107.98L324.65,107.98Z"/><path d="M337.62,98.65L341.12,104.55L334.12,104.55Z"/><path d="M347.08,93.61L350.58,99.51L343.58,99.51Z"/><path d="M356.54,90.24L360.04,96.14L353.04,96.14Z"/><path d="M366.01,85.65L369.51,91.55L362.51,91.55Z"/><path d="M375.47,80.00L378.97,85.90L371.97,85.90Z"/><path d="M384.93,75.18L388.43,81.08L381.43,81.08Z"/><path d="M394.40,69.11L397.90,75.01L390.90,75.01Z"/><path d="M403.86,63.17L407.36,69.07L400.36,69.07Z"/><path d="M413.32,57.30L416.82,63.20L409.82,63.20Z"/><path d="M422.79,51.36L426.29,57.26L419.29,57.26Z"/><path d="M432.25,46.65L435.75,52.55L428.75,52.55Z"/><path d="M441.71,40.79L445.21,46.69L438.21,46.69Z"/><path d="M451.18,36.01L454.68,41.91L447.68,41.91Z"/><path d="M460.64,30.70L464.14,36.60L457.14,36.60Z"/><path d="M470.10,25.71L473.60,31.61L466.60,31.61Z"/><path d="M479.57,19.94L483.07,25.84L476.07,25.84Z"/><path d="M489.03,16.28L492.53,22.18L485.53,22.18Z"/><path d="M498.49,10.86L501.99,16.76L494.99,16.76Z"/><path d="M507.96,8.10L511.46,14.00L504.46,14.00Z"/><path d="M517.42,8.04L520.92,13.94L513.92,13.94Z"/><path d="M526.88,11.49L530.38,17.39L523.38,17.39Z"/><path d="M536.34,15.76L539.84,21.66L532.84,21.66Z"/><path d="M545.81,22.03L549.31,27.93L542.31,27.93Z"/><path d="M555.27,29.17L558.77,35.07L551.77,35.07Z"/><path d="M564.73,37.84L568.23,43.74L561.23,43.74Z"/><path d="M574.20,45.87L577.70,51.77L570.70,51.77Z"/><path d="M583.66,53.03L587.16,58.93L580.16,58.93Z"/><path d="M593.12,61.50L596.62,67.40L589.62,67.40Z"/><path d="M602.59,69.41L606.09,75.31L599.09,75.31Z"/><path d="M612.05,76.25L615.55,82.15L608.55,82.15Z"/><path d="M621.51,82.20L625.01,88.10L618.01,88.10Z"/><path d="M630.98,88.45L634.48,94.35L627.48,94.35Z"/><path d="M640.44,95.42L643.94,101.32L636.94,101.32Z"/><path d="M649.90,100.20L653.40,106.10L646.40,106.10Z"/><path d="M659.37,105.86L662.87,111.76L655.87,111.76Z"/><path d="M668.83,109.81L672.33,115.71L665.33,115.71Z"/><path d="M678.29,116.03L681.79,121.93L674.79,121.93Z"/><path d="M687.76,121.06L691.26,126.96L684.26,126.96Z"/><path d="M697.22,125.94L700.72,131.84L693.72,131.84Z"/><path d="M706.68,131.08L710.18,136.98L703.18,136.98Z"/><path d="M716.15,135.03L719.65,140.93L712.65,140.93Z"/><path d="M725.61,136.45L729.11,142.35L722.11,142.35Z"/><path d="M735.07,141.27L738.57,147.17L731.57,147.17Z"/><path d="M744.54,147.83L748.04,153.73L741.04,153.73Z"/><path d="M754.00,150.69L757.50,156.59L750.50,156.59Z"/><path d="M763.46,156.00L766.96,161.90L759.96,161.90Z"/><path d="M772.93,159.42L776.43,165.32L769.43,165.32Z"/><path d="M782.39,162.82L785.89,168.72L778.89,168.72Z"/><path d="M791.85,167.02L795.35,172.92L788.35,172.92Z"/><path d="M801.31,167.56L804.81,173.46L797.81,173.46Z"/><path d="M810.78,172.29L814.28,178.19L807.28,178.19Z"/><path d="M820.24,173.47L823.74,179.37L816.74,179.37Z"/><path d="M829.70,177.01L833.20,182.91L826.20,182.91Z"/><path d="M839.17,180.97L842.67,186.87L835.67,186.87Z"/><path d="M848.63,184.45L852.13,190.35L845.13,190.35Z"/><path d="M858.09,186.40L861.59,192.30L854.59,192.30Z"/><path d="M867.56,190.05L871.06,195.95L864.06,195.95Z"/><path d="M877.02,183.08L880.52,188.98L873.52,188.98Z"/><path d="M886.48,184.82L889.98,190.72L882.98,190.72Z"/><path d="M895.95,195.47L899.45,201.37L892.45,201.37Z"/><path d="M905.41,193.30L908.91,199.20L901.91,199.20Z"/><path d="M914.87,192.19L918.37,198.09L911.37,198.09Z"/><path d="M924.34,198.62L927.84,204.52L920.84,204.52Z"/><path d="M933.80,211.07L937.30,216.97L930.30,216.97Z"/></g>
</g>
<rect x="103.1" y="0.8" width="838.6999999999999" height="290.59999999999997" fill="none" stroke="#000" stroke-width="1.5"/>
<path d="M242.88,291.4V282.80M242.88,0.8V9.40M382.67,291.4V282.80M382.67,0.8V9.40M522.45,291.4V282.80M522.45,0.8V9.40M662.23,291.4V282.80M662.23,0.8V9.40M802.02,291.4V282.80M802.02,0.8V9.40M103.1,291.43H107.69999999999999M941.8,291.43H937.1999999999999M103.1,285.53H107.69999999999999M941.8,285.53H937.1999999999999M103.1,280.54H107.69999999999999M941.8,280.54H937.1999999999999M103.1,276.22H107.69999999999999M941.8,276.22H937.1999999999999M103.1,272.41H107.69999999999999M941.8,272.41H937.1999999999999M103.1,269.00H111.69999999999999M941.8,269.00H933.1999999999999M103.1,246.57H107.69999999999999M941.8,246.57H937.1999999999999M103.1,233.45H107.69999999999999M941.8,233.45H937.1999999999999M103.1,224.15H107.69999999999999M941.8,224.15H937.1999999999999M103.1,216.93H107.69999999999999M941.8,216.93H937.1999999999999M103.1,211.03H107.69999999999999M941.8,211.03H937.1999999999999M103.1,206.04H107.69999999999999M941.8,206.04H937.1999999999999M103.1,201.72H107.69999999999999M941.8,201.72H937.1999999999999M103.1,197.91H107.69999999999999M941.8,197.91H937.1999999999999M103.1,194.50H111.69999999999999M941.8,194.50H933.1999999999999M103.1,172.07H107.69999999999999M941.8,172.07H937.1999999999999M103.1,158.95H107.69999999999999M941.8,158.95H937.1999999999999M103.1,149.65H107.69999999999999M941.8,149.65H937.1999999999999M103.1,142.43H107.69999999999999M941.8,142.43H937.1999999999999M103.1,136.53H107.69999999999999M941.8,136.53H937.1999999999999M103.1,131.54H107.69999999999999M941.8,131.54H937.1999999999999M103.1,127.22H107.69999999999999M941.8,127.22H937.1999999999999M103.1,123.41H107.69999999999999M941.8,123.41H937.1999999999999M103.1,120.00H111.69999999999999M941.8,120.00H933.1999999999999M103.1,97.57H107.69999999999999M941.8,97.57H937.1999999999999M103.1,84.45H107.69999999999999M941.8,84.45H937.1999999999999M103.1,75.15H107.69999999999999M941.8,75.15H937.1999999999999M103.1,67.93H107.69999999999999M941.8,67.93H937.1999999999999M103.1,62.03H107.69999999999999M941.8,62.03H937.1999999999999M103.1,57.04H107.69999999999999M941.8,57.04H937.1999999999999M103.1,52.72H107.69999999999999M941.8,52.72H937.1999999999999M103.1,48.91H107.69999999999999M941.8,48.91H937.1999999999999M103.1,45.50H111.69999999999999M941.8,45.50H933.1999999999999M103.1,23.07H107.69999999999999M941.8,23.07H937.1999999999999M103.1,9.95H107.69999999999999M941.8,9.95H937.1999999999999" stroke="#000" stroke-width="1.3" fill="none"/>
<g style="filter:grayscale(1)">
<text x="46.6" y="53.80" font-size="25">10</text>
<rect x="72.0" y="38.90" width="10.1" height="1.2" fill="#000"/>
<text x="83.6" y="44.50" font-size="17">1</text>
<text x="46.6" y="128.30" font-size="25">10</text>
<rect x="72.0" y="113.40" width="10.1" height="1.2" fill="#000"/>
<text x="83.6" y="119.00" font-size="17">2</text>
<text x="46.6" y="202.80" font-size="25">10</text>
<rect x="72.0" y="187.90" width="10.1" height="1.2" fill="#000"/>
<text x="83.6" y="193.50" font-size="17">3</text>
<text x="46.6" y="277.30" font-size="25">10</text>
<rect x="72.0" y="262.40" width="10.1" height="1.2" fill="#000"/>
<text x="83.6" y="268.00" font-size="17">4</text>
<rect x="81.85" y="312.85" width="15.7" height="1.3" fill="#000"/>
<text x="100.35" y="319.8" font-size="25">12</text>
<rect x="227.13" y="312.85" width="15.7" height="1.3" fill="#000"/>
<text x="246.63" y="319.8" font-size="25">8</text>
<rect x="366.42" y="312.85" width="15.7" height="1.3" fill="#000"/>
<text x="386.92" y="319.8" font-size="25">4</text>
<text x="516.25" y="319.8" font-size="25">0</text>
<text x="656.53" y="319.8" font-size="25">4</text>
<text x="795.82" y="319.8" font-size="25">8</text>
<text x="929.10" y="319.8" font-size="25">12</text>
<text x="261.3" y="273" font-size="25">Entrainment</text>
<text x="659.1" y="273" font-size="25">Detrainment</text>
<text x="705.6" y="116.7" font-size="25">Increasing filter size</text>
<text x="1026.5" y="95.5" font-size="25">0.3</text>
<text x="1027.6" y="127.6" font-size="25">1.1</text>
<text x="1026.5" y="160.2" font-size="25">4.0</text>
<text x="1026.5" y="192.9" font-size="25">9.8</text>
<text x="1027.5" y="224.9" font-size="25">15.6</text>
<text transform="translate(1021.0,66.4) scale(1.14,0.95)" x="0" y="0" font-size="25" font-style="italic">Δ</text>
<path d="M1047.7,50.0 L1040.4,71.0" stroke="#000" stroke-width="1.55" fill="none"/>
<text transform="translate(1051.3,66.6) scale(1.2,0.93)" x="0" y="0" font-size="25" font-style="italic">λ</text>
<text x="491" y="358.8" font-size="28" font-style="italic">ʋ</text>
<text x="503.8" y="363.3" font-size="20.5" font-style="italic">n</text>
<path d="M526.0,339.8 L515.7,364.6" stroke="#000" stroke-width="1.5" fill="none"/>
<text x="528.6" y="358.8" font-size="28" font-style="italic">u</text>
<text x="541.6" y="363.0" font-size="20.5" font-style="italic">η</text>
<rect x="530" y="340.3" width="23.8" height="1.35" fill="#000"/>
<g transform="translate(24.7,0) rotate(-90)"><text x="-180.3" y="0" font-size="31" font-style="italic">P</text><text x="-159.6" y="0.4" font-size="30">(</text><text x="-149.4" y="0" font-size="29" font-style="italic">ʋ</text><text x="-136.6" y="4.3" font-size="21" font-style="italic">n</text><text x="-126.2" y="0.4" font-size="30">)</text></g>
</g>
<line x1="743.8" y1="121.8" x2="743.8" y2="222" stroke="#000" stroke-width="1.5"/>
<path d="M743.8,231.6 L737.6,211.5 L743.8,218.7 L749.9,211.5 Z" fill="#000"/>
<line x1="956.8" y1="87.4" x2="1016.6" y2="87.4" stroke="#1414cc" stroke-width="1.5"/><g fill="none" stroke="#1414cc" stroke-width="1.45"><path d="M987.60,83.40L991.10,89.30L984.10,89.30Z"/></g>
<line x1="956.8" y1="120.4" x2="1016.6" y2="120.4" stroke="#3512a8" stroke-width="1.5"/><g fill="none" stroke="#3512a8" stroke-width="1.45"><circle cx="987.60" cy="120.70" r="2.9"/></g>
<line x1="956.8" y1="153.4" x2="1016.6" y2="153.4" stroke="#590a82" stroke-width="1.5"/><g fill="none" stroke="#590a82" stroke-width="1.45"><rect x="984.90" y="149.90" width="5.4" height="5.4"/></g>
<line x1="956.8" y1="186.4" x2="1016.6" y2="186.4" stroke="#7a0c60" stroke-width="1.5"/><g fill="none" stroke="#7a0c60" stroke-width="1.45"><path d="M983.76,186.40L989.96,182.80L989.96,190.00Z"/></g>
<line x1="956.8" y1="219.4" x2="1016.6" y2="219.4" stroke="#aa0834" stroke-width="1.5"/><g fill="none" stroke="#aa0834" stroke-width="1.45"><path d="M987.60,215.10L990.20,219.40L987.60,223.70L985.00,219.40Z"/></g>
</svg></body></html>
